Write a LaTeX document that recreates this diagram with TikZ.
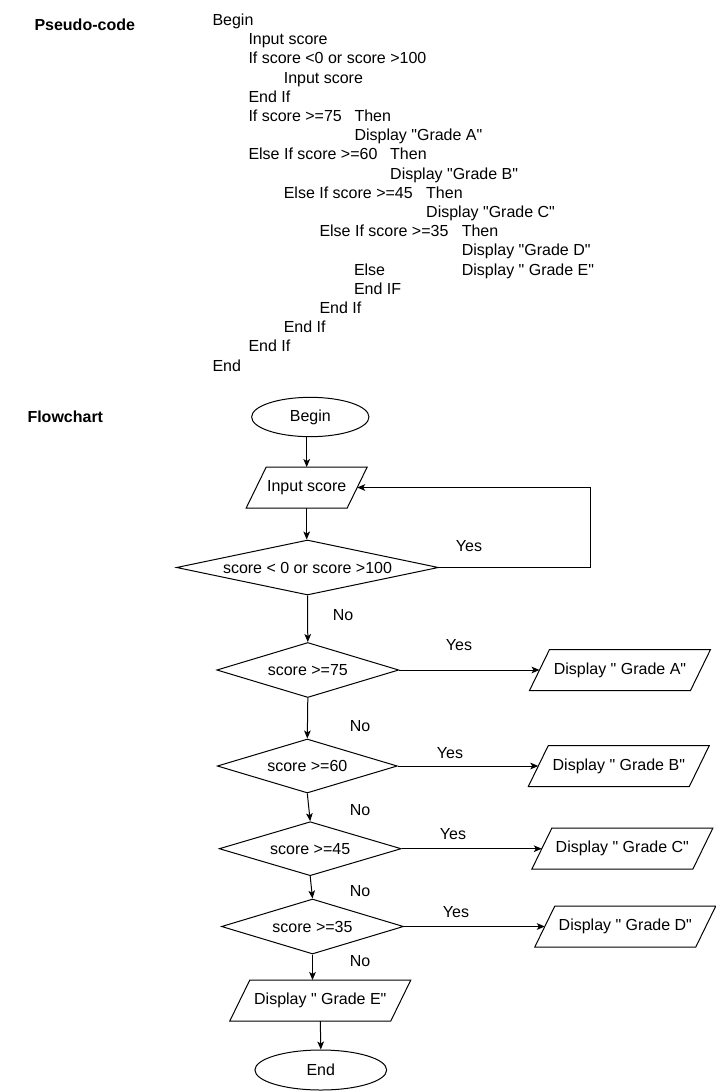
\documentclass[tikz,border=0pt]{standalone}
\usepackage{fontspec}
\setmainfont{Liberation Sans}[Ligatures=TeXOff]
\usetikzlibrary{shapes.geometric,arrows.meta}
\newcommand\ioshape[1]{\draw ([xshift=15pt]#1.north west) -- (#1.north east) -- ([xshift=-15pt]#1.south east) -- (#1.south west) -- cycle;}
\begin{document}
\begin{tikzpicture}[x=0.75pt,y=-0.75pt,
  font=\fontsize{12pt}{14.4pt}\selectfont,
  line width=0.75pt,
  txt/.style={inner sep=0pt, anchor=base west},
  lbl/.style={inner sep=0pt, anchor=base},
  term/.style={ellipse, draw, inner sep=0pt},
  dec/.style={diamond, draw, inner sep=0pt},
  io/.style={rectangle, inner sep=0pt, minimum width=135pt, minimum height=30pt},
  arr/.style={-{Stealth[length=6pt,width=5pt,inset=1.5pt]}},
]
\useasboundingbox (0,0) rectangle (716,1091);

% ---- titles
\node[txt,font=\fontsize{12pt}{14.4pt}\selectfont\bfseries] (t1) at (34,30.5) {Pseudo-code};
\node[txt,font=\fontsize{12pt}{14.4pt}\selectfont\bfseries] (t2) at (27,422.2) {Flowchart};

% ---- pseudo-code
\node[txt] (p0)  at (212,   25.5) {Begin};
\node[txt] (p1)  at (248,   44.7) {Input score};
\node[txt] (p2)  at (248,   63.9) {If score <0 or score >100};
\node[txt] (p3)  at (283.3, 83.1) {Input score};
\node[txt] (p4)  at (248,  102.3) {End If};
\node[txt] (p5)  at (248,  121.5) {If score >=75};
\node[txt] (p5t) at (354,  121.5) {Then};
\node[txt] (p6)  at (354,  140.7) {Display "Grade A"};
\node[txt] (p7)  at (248,  159.9) {Else If score >=60};
\node[txt] (p7t) at (389.7,159.9) {Then};
\node[txt] (p8)  at (389.7,179.1) {Display "Grade B"};
\node[txt] (p9)  at (283.3,198.3) {Else If score >=45};
\node[txt] (p9t) at (425.7,198.3) {Then};
\node[txt] (p10) at (425.7,217.5) {Display "Grade C"};
\node[txt] (p11) at (319,  236.7) {Else If score >=35};
\node[txt] (p11t) at (461.3,236.7) {Then};
\node[txt] (p12) at (461.3,255.9) {Display "Grade D"};
\node[txt] (p13) at (353.5,275.1) {Else};
\node[txt] (p13d) at (461.3,275.1) {Display " Grade E"};
\node[txt] (p14) at (353.5,294.3) {End IF};
\node[txt] (p15) at (319,  313.5) {End If};
\node[txt] (p16) at (283.3,332.7) {End If};
\node[txt] (p17) at (248,  351.9) {End If};
\node[txt] (p18) at (212,  371.1) {End};

% ---- flowchart nodes
\node[term, minimum width=88pt, minimum height=29.5pt] (b) at (310.3,417) {Begin};
\node[io, minimum width=90pt] (in) at (306.7,487.5) {Input score};
\ioshape{in}
\node[dec, aspect=4.76, minimum width=196.5pt, minimum height=41.25pt] (d1) at (307.5,567.5) {score < 0 or score >100};
\node[dec, aspect=3.3, minimum width=136.5pt, minimum height=41.25pt] (d75) at (307.8,670) {score >=75};
\node[dec, aspect=3.3, minimum width=135pt, minimum height=40.5pt] (d60) at (307.3,766) {score >=60};
\node[dec, aspect=3.3, minimum width=136.5pt, minimum height=40.5pt] (d45) at (310.2,848.7) {score >=45};
\node[dec, aspect=3.3, minimum width=136.5pt, minimum height=41.25pt] (d35) at (312.5,926.5) {score >=35};

\node[io] (dA) at (620,670) {Display " Grade A"};
\ioshape{dA}
\node[io] (dB) at (618.8,766) {Display " Grade B"};
\ioshape{dB}
\node[io] (dC) at (622.3,848.7) {Display " Grade C"};
\ioshape{dC}
\node[io] (dD) at (625.3,926.5) {Display " Grade D"};
\ioshape{dD}
\node[io] (dE) at (320.3,1000.5) {Display " Grade E"};
\ioshape{dE}
\node[term, minimum width=98.8pt, minimum height=30pt] (en) at (320.8,1070) {End};

\coordinate (lp) at (590.7,487.5);

% ---- connectors
\draw[arr] (b.south -| in.north) -- (in.north);
\draw[arr] (in.south) -- (in.south |- d1.north);
\draw[arr] (d1.east) -| (lp) -- ([xshift=-7.5pt]in.east);
\draw[arr] (d1.south) -- (d75.north);
\draw[arr] (d75.south) -- (d60.north);
\draw[arr] (d60.south) -- (d45.north);
\draw[arr] (d45.south) -- (d35.north);
\draw[arr] (d35.south) -- (d35.south |- dE.north);
\draw[arr] (dE.south) -- (en.north);
\draw[arr] (d75.east) -- ([xshift=7.5pt]dA.west);
\draw[arr] (d60.east) -- ([xshift=7.5pt]dB.west);
\draw[arr] (d45.east) -- ([xshift=7.5pt]dC.west);
\draw[arr] (d35.east) -- ([xshift=7.5pt]dD.west);

% ---- labels
\node[lbl] (y1) at (469,551.7) {Yes};
\node[lbl] (n1) at (343,620) {No};
\node[lbl] (yA) at (459,650.7) {Yes};
\node[lbl] (n2) at (360,731.5) {No};
\node[lbl] (yB) at (450,758.2) {Yes};
\node[lbl] (n3) at (360,815.5) {No};
\node[lbl] (yC) at (453,839.8) {Yes};
\node[lbl] (n4) at (360,896.5) {No};
\node[lbl] (yD) at (456,917.5) {Yes};
\node[lbl] (n5) at (360,966.8) {No};
\end{tikzpicture}
\end{document}
